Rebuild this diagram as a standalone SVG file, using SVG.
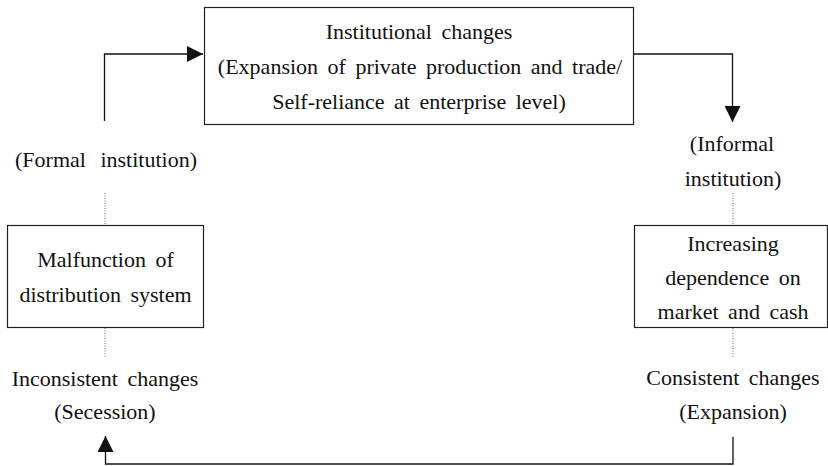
<svg xmlns="http://www.w3.org/2000/svg" width="828" height="466" viewBox="0 0 828 466">
<defs>
<style>
.t{font-family:"Liberation Serif","Times New Roman",serif;font-size:22px;fill:#111;text-anchor:middle;word-spacing:4px}
.box{fill:#fff;stroke:#222;stroke-width:1.2}
.ln{fill:none;stroke:#111;stroke-width:1.3}
.dot{fill:none;stroke:#666;stroke-width:1;stroke-dasharray:1 1.5}
</style>
<marker id="ah" viewBox="0 0 16 16" refX="16" refY="8" markerWidth="16" markerHeight="16" markerUnits="userSpaceOnUse" orient="auto">
<path d="M0,0 L16,8 L0,16 Z" fill="#111"/>
</marker>
</defs>
<rect width="828" height="466" fill="#fff"/>
<g id="connectors">
<path class="ln" d="M104.5,121 V54 H203" marker-end="url(#ah)"/>
<path class="ln" d="M634,54 H732.5 V122" marker-end="url(#ah)"/>
<path class="ln" d="M733,437 V464 H105.5 V436" marker-end="url(#ah)"/>
<path class="dot" d="M105,193 V224"/>
<path class="dot" d="M105,328 V358"/>
<path class="dot" d="M733,193 V224"/>
<path class="dot" d="M733,328 V358"/>
</g>
<g id="institutional-changes">
<rect class="box" x="204.5" y="7.5" width="429" height="117"/>
<text class="t" x="419" y="39">Institutional changes</text>
<text class="t" x="420" y="74">(Expansion of private production and trade/</text>
<text class="t" x="419" y="109">Self-reliance at enterprise level)</text>
</g>
<g id="formal-institution">
<text class="t" x="106" y="167" style="word-spacing:9px">(Formal institution)</text>
</g>
<g id="informal-institution">
<text class="t" x="732" y="151">(Informal</text>
<text class="t" x="733" y="186">institution)</text>
</g>
<g id="malfunction">
<rect class="box" x="7.5" y="225.5" width="196" height="102"/>
<text class="t" x="105.5" y="267">Malfunction of</text>
<text class="t" x="105.5" y="302">distribution system</text>
</g>
<g id="increasing-dependence">
<rect class="box" x="634.5" y="225.5" width="193" height="102"/>
<text class="t" x="733" y="251">Increasing</text>
<text class="t" x="733" y="285">dependence on</text>
<text class="t" x="733" y="319">market and cash</text>
</g>
<g id="inconsistent">
<text class="t" x="105" y="386">Inconsistent changes</text>
<text class="t" x="105" y="419">(Secession)</text>
</g>
<g id="consistent">
<text class="t" x="733" y="385">Consistent changes</text>
<text class="t" x="733" y="419">(Expansion)</text>
</g>
</svg>
